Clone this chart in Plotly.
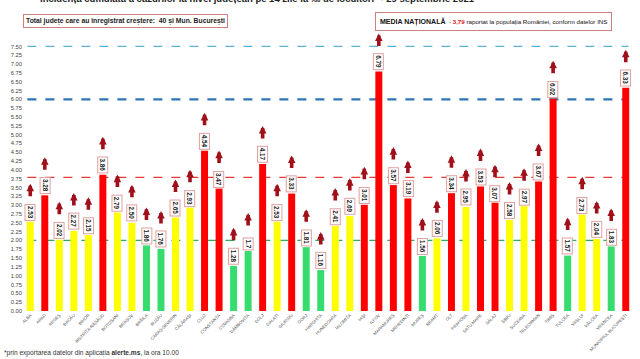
import plotly.graph_objects as go

counties = ["ALBA", "ARAD", "ARGEȘ", "BACĂU", "BIHOR", "BISTRIȚA-NĂSĂUD", "BOTOȘANI", "BRAȘOV",
            "BRĂILA", "BUZĂU", "CARAȘ-SEVERIN", "CĂLĂRAȘI", "CLUJ", "CONSTANȚA", "COVASNA",
            "DÂMBOVIȚA", "DOLJ", "GALAȚI", "GIURGIU", "GORJ", "HARGHITA", "HUNEDOARA", "IALOMIȚA",
            "IAȘI", "ILFOV", "MARAMUREȘ", "MEHEDINȚI", "MUREȘ", "NEAMȚ", "OLT", "PRAHOVA",
            "SATU MARE", "SĂLAJ", "SIBIU", "SUCEAVA", "TELEORMAN", "TIMIȘ", "TULCEA", "VASLUI",
            "VÂLCEA", "VRANCEA", "MUNICIPIUL BUCUREȘTI"]
values = [2.53, 3.28, 2.02, 2.27, 2.15, 3.86, 2.79, 2.50, 1.86, 1.76, 2.65, 2.93, 4.54, 3.47, 1.28,
          1.70, 4.17, 2.53, 3.33, 1.81, 1.16, 2.41, 2.69, 3.01, 6.79, 3.57, 3.19, 1.56, 2.06, 3.34,
          2.95, 3.53, 3.07, 2.58, 2.97, 3.67, 6.02, 1.57, 2.73, 2.04, 1.83, 6.33]
value_labels = ["2.53", "3.28", "2.02", "2.27", "2.15", "3.86", "2.79", "2.50", "1.86", "1.76", "2.65",
                "2.93", "4.54", "3.47", "1.28", "1.7", "4.17", "2.53", "3.33", "1.81", "1.16", "2.41",
                "2.69", "3.01", "6.79", "3.57", "3.19", "1.56", "2.06", "3.34", "2.95", "3.53", "3.07",
                "2.58", "2.97", "3.67", "6.02", "1.57", "2.73", "2.04", "1.83", "6.33"]
national_avg = 3.79
ref_lines = [7.5, 6.0, 2.0]

GREEN, YELLOW, RED = "#36DC6E", "#FFFF00", "#FF0000"
colors = [GREEN if v < 2 else (YELLOW if v <= 3 else RED) for v in values]

FONT = "Liberation Sans"

fig = go.Figure()
fig.add_trace(go.Bar(x=counties, y=values, marker=dict(color=colors, line=dict(width=0)),
                     hoverinfo="x+y"))

shapes = []
line_styles = {
    7.5: dict(color="#5AB4DC", width=1.2, dash="dash"),
    6.0: dict(color="#2E75B6", width=2.4, dash="dash"),
    2.0: dict(color="#2EAF5A", width=1.3, dash="dash"),
}
for yv in ref_lines:
    shapes.append(dict(type="line", xref="x", yref="y", x0=-0.2, x1=41.2, y0=yv, y1=yv,
                       line=line_styles[yv], layer="below"))
shapes.append(dict(type="line", xref="x", yref="y", x0=-0.2, x1=41.2, y0=national_avg, y1=national_avg,
                   line=dict(color="#E53935", width=1.3, dash="dash"), layer="below"))

annotations = []
for c, v, lab in zip(counties, values, value_labels):
    annotations.append(dict(x=c, y=v, xref="x", yref="y", text="<b>" + lab + "</b>", textangle=90,
                            showarrow=False, yanchor="bottom", xanchor="center", yshift=1,
                            font=dict(family=FONT, size=6.3, color="#222"),
                            bgcolor="white", bordercolor="#E0A0A0", borderwidth=1, borderpad=1))
    annotations.append(dict(x=c, y=v, xref="x", yref="y", text="", showarrow=True,
                            ax=0, ay=14, yshift=38, arrowhead=2, arrowsize=0.42, arrowwidth=3.6,
                            arrowcolor="#A0101A", standoff=0, startstandoff=0))

annotations.append(dict(xref="paper", yref="paper", x=0.385, y=1.116, xanchor="center", yanchor="bottom",
                        text="<b>Incidența cumulată a cazurilor la nivel județean pe 14 zile la ‰ de locuitori* - 29 septembrie 2021</b>",
                        showarrow=False, font=dict(family=FONT, size=9.5, color="#222")))
annotations.append(dict(xref="paper", yref="paper", x=0.0, y=1.036, xanchor="left", yanchor="bottom",
                        text="<b>Total județe care au înregistrat creștere:  40 și Mun. București</b>",
                        showarrow=False, font=dict(family=FONT, size=6.8, color="#222"),
                        bgcolor="white", bordercolor="#D08080", borderwidth=1, borderpad=2))
annotations.append(dict(xref="paper", yref="paper", x=0.577, y=1.025, xanchor="left", yanchor="bottom",
                        text="<b><span style='font-size:7px'>MEDIA NAȚIONALĂ</span></b>  - <b><span style='color:#E02020'>3,79</span></b> "
                             "raportat la populația României, conform datelor INS",
                        showarrow=False, font=dict(family=FONT, size=6.2, color="#111"),
                        bgcolor="white", bordercolor="#D08080", borderwidth=1, borderpad=4))
annotations.append(dict(xref="paper", yref="paper", x=-0.034, y=-0.133, xanchor="left", yanchor="top",
                        text="*prin exportarea datelor din aplicația <b>alerte.ms</b>, la ora 10.00",
                        showarrow=False, font=dict(family=FONT, size=6.6, color="#333")))

fig.update_layout(
    width=640, height=359, autosize=False,
    margin=dict(l=23, r=7, t=38, b=41),
    paper_bgcolor="white", plot_bgcolor="white",
    bargap=0.52, showlegend=False,
    shapes=shapes, annotations=annotations,
    xaxis=dict(range=[-0.5, 41.5], tickangle=-45, tickfont=dict(family=FONT, size=4.3, color="#555"),
               showgrid=False, showline=False, zeroline=False, ticks=""),
    yaxis=dict(range=[0, 7.74], dtick=0.25, tick0=0, tickformat=".2f", showgrid=False,
               showline=False, zeroline=False, ticks="",
               tickfont=dict(family=FONT, size=5.8, color="#444")),
    font=dict(family=FONT),
)

fig.write_html("out.html", config={"displayModeBar": False},
               post_script="document.body.style.margin='0';")
